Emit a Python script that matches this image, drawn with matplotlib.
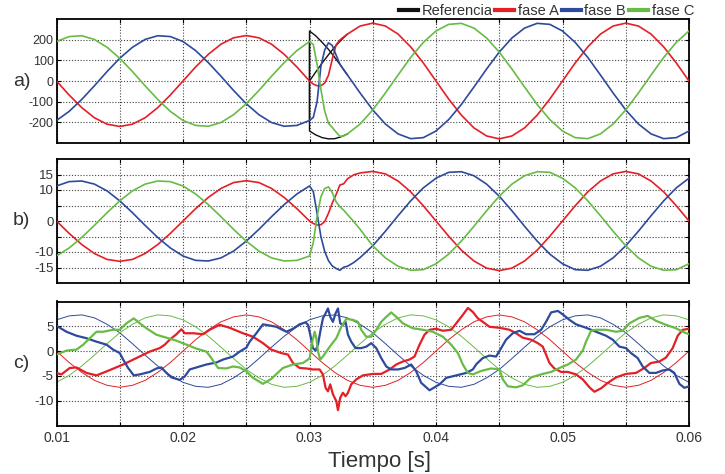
import matplotlib
matplotlib.use("Agg")
import matplotlib.pyplot as plt
from matplotlib.lines import Line2D

plt.rcParams['font.family'] = ['Liberation Sans', 'DejaVu Sans']
plt.rcParams['axes.unicode_minus'] = False

# ---------------- data (time in ms) ----------------
# Panel a) tensiones
t_a = [10, 11, 12, 13, 14, 15, 16, 17, 18, 19, 20, 21, 22, 23, 24, 25, 26, 27, 28, 29,
       30, 30.3, 30.6, 30.9, 31.2, 31.5, 31.8, 32.1, 32.4, 32.7, 33,
       34, 35, 36, 37, 38, 39, 40, 41, 42, 43, 44, 45, 46, 47, 48, 49, 50,
       51, 52, 53, 54, 55, 56, 57, 58, 59, 60]
a_faseA = [0, -68, -129, -178, -209, -220, -209, -178, -129, -68, 0, 68, 129, 178, 209, 220, 209, 178, 129, 68,
           0, -15, -23, -23, -10, 28, 105, 175, 198, 213, 227,
           266, 280, 266, 227, 165, 87, 0, -87, -165, -227, -266, -280, -266, -227, -165, -87, 0,
           87, 165, 227, 266, 280, 266, 227, 165, 87, 0]
a_faseB = [-191, -147, -89, -23, 46, 110, 163, 201, 219, 215, 191, 147, 89, 23, -46, -110, -163, -201, -219, -215,
           -191, -176, -100, 70, 150, 185, 172, 126, 82, 55, 29,
           -58, -140, -208, -256, -279, -274, -242, -187, -114, -29, 58, 140, 208, 256, 279, 274, 242,
           187, 114, 29, -58, -140, -208, -256, -279, -274, -242]
a_faseC = [191, 215, 219, 201, 163, 110, 46, -23, -89, -147, -191, -215, -219, -201, -163, -110, -46, 23, 89, 147,
           191, 177, 80, -40, -145, -205, -225, -247, -268, -266, -256,
           -208, -140, -58, 29, 114, 187, 242, 274, 279, 256, 208, 140, 58, -29, -114, -187, -242,
           -274, -279, -256, -208, -140, -58, 29, 114, 187, 242]
t_ref = [30, 30, 30.5, 31, 31.5, 32, 32.5, 33]
ref_A = [0, 0, 44, 87, 127, 165, 198, 227]
ref_B = [-191, 242, 218, 187, 153, 114, 72, 29]
ref_C = [191, -242, -261, -274, -280, -279, -270, -256]

# Panel b)
t_b = [10, 11, 12, 13, 14, 15, 16, 17, 18, 19, 20, 21, 22, 23, 24, 25, 26, 27, 28, 29,
       30, 30.3, 30.6, 30.9, 31.2, 31.5, 31.8, 32.1, 32.4, 32.7, 33, 33.5, 34,
       35, 36, 37, 38, 39, 40, 41, 42, 43, 44, 45, 46, 47, 48, 49, 50,
       51, 52, 53, 54, 55, 56, 57, 58, 59, 60]
b_faseA = [0, -4.0, -7.6, -10.5, -12.4, -13, -12.4, -10.5, -7.6, -4.0, 0, 4.0, 7.6, 10.5, 12.4, 13, 12.4, 10.5, 7.6, 4.0,
           0, -0.8, -1.3, -1.2, -0.2, 2.5, 5.8, 8.5, 11.6, 12.0, 13.6, 14.9, 15.5,
           16, 15.2, 12.9, 9.4, 4.9, 0, -4.9, -9.4, -12.9, -15.2, -16, -15.2, -12.9, -9.4, -4.9, 0,
           4.9, 9.4, 12.9, 15.2, 16, 15.2, 12.9, 9.4, 4.9, 0]
b_faseB = [11.3, 12.7, 12.9, 11.9, 9.7, 6.5, 2.7, -1.4, -5.3, -8.7, -11.3, -12.7, -12.9, -11.9, -9.7, -6.5, -2.7, 1.4, 5.3, 8.7,
           11.3, 9.5, 2.5, -5.0, -9.8, -12.8, -14.5, -15.3, -15.9, -14.9, -14.6, -13.4, -11.8,
           -8.0, -3.3, 1.7, 6.5, 10.7, 13.8, 15.7, 15.9, 14.6, 11.9, 8.0, 3.3, -1.7, -6.5, -10.7, -13.8,
           -15.7, -15.9, -14.6, -11.9, -8.0, -3.3, 1.7, 6.5, 10.7, 13.8]
b_faseC = [-11.3, -8.7, -5.3, -1.4, 2.7, 6.5, 9.7, 11.9, 12.9, 12.7, 11.3, 8.7, 5.3, 1.4, -2.7, -6.5, -9.7, -11.9, -12.9, -12.7,
           -11.3, -7.0, 1.5, 7.8, 10.5, 11.0, 9.2, 6.2, 4.6, 3.5, 2.1, -0.2, -2.7,
           -8.0, -11.9, -14.6, -15.9, -15.7, -13.8, -10.7, -6.5, -1.7, 3.3, 8.0, 11.9, 14.6, 15.9, 15.7, 13.8,
           10.7, 6.5, 1.7, -3.3, -8.0, -11.9, -14.6, -15.9, -15.7, -13.8]

# Panel c) reference (thin) currents
t_c = [10, 11, 12, 13, 14, 15, 16, 17, 18, 19, 20, 21, 22, 23, 24, 25, 26, 27, 28, 29,
       30, 31, 32, 33, 34, 35, 36, 37, 38, 39, 40, 41, 42, 43, 44, 45, 46, 47, 48, 49,
       50, 51, 52, 53, 54, 55, 56, 57, 58, 59, 60]
c_refA = [0, -2.3, -4.3, -5.9, -6.9, -7.3, -6.9, -5.9, -4.3, -2.3, 0, 2.3, 4.3, 5.9, 6.9, 7.3, 6.9, 5.9, 4.3, 2.3,
          0, -2.3, -4.3, -5.9, -6.9, -7.3, -6.9, -5.9, -4.3, -2.3, 0, 2.3, 4.3, 5.9, 6.9, 7.3, 6.9, 5.9, 4.3, 2.3,
          0, -2.3, -4.3, -5.9, -6.9, -7.3, -6.9, -5.9, -4.3, -2.3, 0]
c_refB = [6.3, 7.1, 7.3, 6.7, 5.4, 3.7, 1.5, -0.8, -3.0, -4.9, -6.3, -7.1, -7.3, -6.7, -5.4, -3.7, -1.5, 0.8, 3.0, 4.9,
          6.3, 7.1, 7.3, 6.7, 5.4, 3.7, 1.5, -0.8, -3.0, -4.9, -6.3, -7.1, -7.3, -6.7, -5.4, -3.7, -1.5, 0.8, 3.0, 4.9,
          6.3, 7.1, 7.3, 6.7, 5.4, 3.7, 1.5, -0.8, -3.0, -4.9, -6.3]
c_refC = [-6.3, -4.9, -3.0, -0.8, 1.5, 3.7, 5.4, 6.7, 7.3, 7.1, 6.3, 4.9, 3.0, 0.8, -1.5, -3.7, -5.4, -6.7, -7.3, -7.1,
          -6.3, -4.9, -3.0, -0.8, 1.5, 3.7, 5.4, 6.7, 7.3, 7.1, 6.3, 4.9, 3.0, 0.8, -1.5, -3.7, -5.4, -6.7, -7.3, -7.1,
          -6.3, -4.9, -3.0, -0.8, 1.5, 3.7, 5.4, 6.7, 7.3, 7.1, 6.3]

# Panel c) measured (thick) currents
c_A_t = [10.00, 10.39, 11.05, 11.58, 12.37, 13.16, 13.95, 15.27, 16.32, 17.37, 18.16, 18.56, 18.95, 19.48, 19.87,
         20.14, 20.80, 21.59, 22.11, 22.90, 23.69, 24.74, 25.53, 26.32, 26.98, 27.77, 28.30, 28.69, 29.22, 29.75,
         30.27, 30.80, 31.06, 31.27, 31.46, 31.64, 31.85, 32.12, 32.25, 32.43, 32.64, 32.85, 33.04, 33.30, 33.70,
         34.22, 35.01, 35.67, 36.33, 36.86, 37.38, 37.91, 38.30, 38.70, 39.09, 39.49, 40.02, 40.54, 41.20, 41.60,
         42.12, 42.52, 42.91, 43.31, 43.70, 44.23, 45.02, 45.81, 46.33, 46.86, 47.52, 48.05, 48.44, 48.70, 48.97,
         49.36, 49.89, 50.42, 51.07, 51.60, 52.13, 52.52, 53.05, 53.58, 54.23, 55.02, 55.81, 56.47, 56.99, 57.66,
         58.18, 58.71, 59.11, 59.50, 60.00]
c_A_v = [-4.4, -4.7, -3.4, -3.3, -4.4, -4.9, -4.1, -2.7, -1.4, -0.1, 0.6, 1.3, 2.3, 3.4, 4.4,
         3.6, 3.6, 3.4, 4.3, 5.3, 4.7, 3.6, 2.9, 1.6, 0.3, -0.4, -0.7, -2.4, -3.4, -3.5,
         -3.7, -3.7, -4.7, -7.4, -8.1, -6.7, -8.7, -10.1, -11.9, -9.4, -8.4, -9.1, -8.4, -6.7, -5.7,
         -4.9, -4.6, -4.6, -3.7, -2.7, -2.1, -1.7, -1.1, 1.3, 3.3, 4.3, 4.5, 4.1, 4.3, 5.6,
         7.3, 8.7, 7.9, 6.6, 5.9, 4.9, 4.7, 4.3, 3.6, 2.7, 2.3, 1.6, 0.9, -0.7, -2.4,
         -3.5, -4.2, -4.2, -4.7, -5.7, -7.3, -8.2, -7.5, -6.4, -5.3, -4.6, -4.4, -3.4, -2.4, -2.1,
         -1.3, 0.6, 3.1, 4.3, 4.5]
c_B_t = [10.00, 10.79, 11.58, 12.37, 13.16, 13.95, 14.48, 15.00, 15.27, 15.66, 16.11, 16.58, 17.37, 17.90, 18.29,
         18.69, 19.08, 19.74, 20.14, 20.53, 21.06, 21.85, 22.64, 23.17, 23.95, 24.48, 25.01, 25.27, 25.80, 26.32,
         26.98, 27.38, 28.17, 28.69, 29.22, 29.69, 29.88, 30.06, 30.27, 30.48, 30.67, 30.85, 31.06, 31.27, 31.46,
         31.64, 31.85, 32.06, 32.25, 32.43, 32.64, 32.85, 33.04, 33.30, 33.64, 34.09, 34.49, 34.88, 35.28, 35.67,
         36.07, 36.46, 36.99, 37.52, 38.04, 38.44, 38.83, 39.49, 39.88, 40.28, 40.81, 41.60, 42.39, 42.91, 43.20,
         43.70, 44.23, 44.75, 45.15, 45.54, 46.07, 46.60, 47.12, 47.78, 48.31, 48.70, 49.10, 49.63, 50.02, 50.55,
         51.07, 51.86, 52.65, 53.44, 53.97, 54.50, 55.02, 55.42, 55.94, 56.34, 56.87, 57.39, 57.92, 58.45, 58.84,
         59.24, 59.63, 60.00]
c_B_v = [5.1, 3.9, 3.1, 2.6, 1.9, 1.3, 0.3, -0.4, -1.7, -3.4, -4.9, -4.7, -4.2, -3.5, -3.3,
         -4.4, -5.3, -5.8, -5.1, -3.7, -3.3, -2.7, -2.3, -1.7, -1.1, -0.1, 0.7, 1.9, 3.6, 5.4,
         5.1, 4.9, 3.9, 4.5, 5.4, 5.8, 5.3, 3.3, 0.6, 0.1, 1.3, 3.9, 6.6, 7.6, 8.6,
         6.9, 5.9, 7.6, 8.6, 5.6, 5.3, 5.9, 3.3, 1.9, 0.6, 0.6, 0.9, 1.6, 0.6, -1.4,
         -3.1, -3.7, -3.7, -3.4, -2.7, -4.1, -6.4, -7.9, -7.3, -6.7, -5.4, -4.9, -4.4, -3.7, -2.6,
         -1.4, -0.9, -1.1, 0.6, 2.3, 3.6, 4.1, 3.4, 3.4, 4.3, 5.9, 7.8, 8.1, 7.4, 6.3,
         5.4, 4.7, 3.9, 3.1, 2.3, 0.9, 0.6, -0.4, -1.4, -3.1, -4.4, -4.4, -3.9, -3.7, -4.4,
         -6.6, -7.4, -7.1]
c_C_t = [10.00, 10.79, 11.58, 12.11, 12.63, 13.16, 13.69, 14.48, 15.00, 15.53, 16.11, 16.58, 17.11, 17.90, 18.69,
         19.48, 20.27, 21.06, 21.85, 22.24, 22.77, 23.43, 23.95, 24.48, 25.01, 25.53, 26.32, 26.98, 27.90, 28.69,
         29.48, 29.88, 30.01, 30.22, 30.41, 30.54, 30.67, 30.85, 31.06, 31.33, 31.72, 32.12, 32.51, 32.91, 33.43,
         33.83, 34.09, 34.49, 34.88, 35.28, 35.67, 36.07, 36.46, 36.86, 37.38, 38.17, 38.96, 39.75, 40.54, 41.20,
         41.73, 42.12, 42.52, 42.91, 43.57, 44.36, 45.02, 45.28, 45.68, 46.33, 46.86, 47.52, 48.44, 49.10, 49.76,
         50.42, 51.07, 51.60, 51.86, 52.26, 52.65, 53.44, 54.23, 54.76, 55.29, 56.08, 56.74, 57.39, 58.18, 58.97,
         59.50, 60.00]
c_C_v = [-0.7, 0.1, 0.3, 1.3, 2.6, 3.9, 3.9, 4.3, 4.3, 5.6, 6.6, 5.6, 4.6, 3.3, 2.7,
         2.1, 1.3, 0.5, -0.1, -1.4, -3.4, -3.5, -3.1, -3.3, -4.1, -5.4, -6.6, -5.6, -3.4, -2.7,
         -2.4, -1.7, -1.4, 1.9, 3.9, 2.6, -0.1, -1.7, -1.1, -0.1, 1.3, 2.6, 4.9, 6.5, 6.3,
         5.9, 4.3, 2.9, 2.9, 4.3, 5.9, 6.9, 7.8, 6.9, 5.6, 4.6, 4.3, 3.9, 2.9, 1.3,
         -0.4, -2.7, -4.4, -4.7, -4.0, -3.5, -3.7, -5.7, -7.1, -7.3, -6.9, -5.3, -4.6, -4.2, -3.4,
         -2.7, -1.7, 0.1, 1.9, 4.1, 4.3, 4.3, 3.9, 4.1, 5.6, 6.7, 7.1, 6.1, 5.3, 4.6,
         3.9, 3.4]

legend_labels = ['Referencia', 'fase A', 'fase B', 'fase C']
panel_labels = ['a)', 'b)', 'c)']
x_ticks = [0.01, 0.02, 0.03, 0.04, 0.05, 0.06]
x_grid = [0.01, 0.015, 0.02, 0.025, 0.03, 0.035, 0.04, 0.045, 0.05, 0.055, 0.06]
ya_ticks = [-200, -100, 0, 100, 200]
yb_ticks = [-15, -10, -5, 0, 5, 10, 15]
yb_labels = ['-15', '-10', '', '0', '', '10', '15']
yc_ticks = [-10, -5, 0, 5]

# ---------------- style ----------------
RED = '#e41f26'
BLUE = '#2d4a9c'
GREEN = '#68bb45'
BLACK = '#111111'
TXT = '#333333'

def ms(v):
    return [x / 1000.0 for x in v]

W, H = 725, 474
fig = plt.figure(figsize=(W / 100, H / 100), dpi=100)

left = 56.5 / W
width = (689 - 56.5) / W
tops = [19, 159, 301.5]
hpx = 124

axes = []
for top in tops:
    ax = fig.add_axes([left, 1 - (top + hpx) / H, width, hpx / H])
    axes.append(ax)

def style(ax, yticks, ylim, ylabels=None, ysize=9):
    ax.set_xlim(0.01, 0.06)
    ax.set_ylim(*ylim)
    ax.set_xticks(x_grid)
    ax.set_yticks(yticks)
    if ylabels is not None:
        ax.set_yticklabels(ylabels)
    ax.grid(True, color='#444444', linestyle=(0, (1, 1.6)), linewidth=0.8)
    ax.tick_params(direction='in', length=3, width=0.8, top=True, right=True,
                   labelsize=ysize, labelcolor=TXT, pad=2)
    for s in ax.spines.values():
        s.set_linewidth(1.3)
        s.set_color('black')
    ax.set_axisbelow(True)

# a)
ax = axes[0]
ax.plot(ms(t_ref), ref_A, color=BLACK, lw=1.0, zorder=2)
ax.plot(ms(t_ref), ref_B, color=BLACK, lw=1.0, zorder=2)
ax.plot(ms(t_ref), ref_C, color=BLACK, lw=1.0, zorder=2)
ax.plot(ms(t_a), a_faseA, color=RED, lw=1.2, zorder=3)
ax.plot(ms(t_a), a_faseB, color=BLUE, lw=1.2, zorder=3)
ax.plot(ms(t_a), a_faseC, color=GREEN, lw=1.2, zorder=3)
style(ax, ya_ticks, (-300, 300), ysize=9)
ax.tick_params(labelbottom=False)

# b)
ax = axes[1]
ax.plot(ms(t_b), b_faseA, color=RED, lw=1.2, zorder=3)
ax.plot(ms(t_b), b_faseB, color=BLUE, lw=1.2, zorder=3)
ax.plot(ms(t_b), b_faseC, color=GREEN, lw=1.2, zorder=3)
style(ax, yb_ticks, (-20, 20), yb_labels, ysize=9.5)
ax.tick_params(labelbottom=False)

# c)
ax = axes[2]
ax.plot(ms(t_c), c_refA, color=RED, lw=0.7, zorder=2)
ax.plot(ms(t_c), c_refB, color=BLUE, lw=0.7, zorder=2)
ax.plot(ms(t_c), c_refC, color=GREEN, lw=0.7, zorder=2)
ax.plot(ms(c_A_t), c_A_v, color=RED, lw=1.6, zorder=3)
ax.plot(ms(c_B_t), c_B_v, color=BLUE, lw=1.6, zorder=3)
ax.plot(ms(c_C_t), c_C_v, color=GREEN, lw=1.6, zorder=3)
style(ax, yc_ticks, (-15, 10), ysize=9.5)
ax.set_xticks(x_grid)
ax.set_xticklabels([('%.2f' % x) if any(abs(x - k) < 1e-9 for k in x_ticks) else '' for x in x_grid])
ax.tick_params(axis='x', labelsize=10, pad=4)

# panel labels
for lab, top in zip(panel_labels, tops):
    fig.text(13 / W, 1 - (top + 62) / H, lab, fontsize=14, color=TXT, ha='left', va='center')

fig.text(379 / W, 1 - 461 / H, 'Tiempo [s]', fontsize=16, color=TXT, ha='center', va='center')

handles = [Line2D([], [], color=c, lw=3) for c in (BLACK, RED, BLUE, GREEN)]
fig.legend(handles, legend_labels, loc='center right', bbox_to_anchor=(694 / W, 1 - 11 / H),
           ncol=4, frameon=False, fontsize=10.5, handlelength=1.3, handletextpad=0.25,
           columnspacing=0.2, borderpad=0, borderaxespad=0, labelcolor=TXT)

fig.savefig('out.png', dpi=100)
